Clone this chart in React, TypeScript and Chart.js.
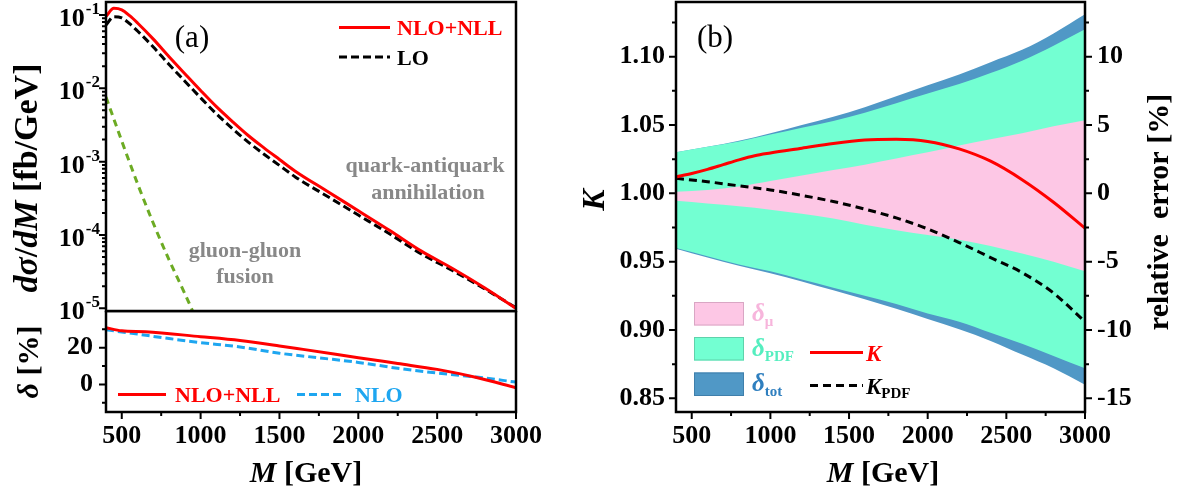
import React, { useEffect, useRef } from 'react';
import { Chart, registerables } from 'chart.js';

Chart.register(...registerables);

const FONT = "'Liberation Serif', 'Times New Roman', Times, serif";

// ---------- Panel (a), upper: dσ/dM [fb/GeV] ----------
const M_A = [400, 450, 500, 550, 600, 700, 800, 900, 1000, 1100, 1200, 1300, 1400, 1500, 1600, 1800, 2000, 2200, 2400, 2600, 2800, 3000];
const SIGMA_NLO_NLL = [0.0955, 0.123, 0.1175, 0.0977, 0.0776, 0.0468, 0.0269, 0.0158, 0.00933, 0.00562, 0.00355, 0.00229, 0.00155, 0.00107, 7.41e-4, 3.98e-4, 2.14e-4, 1.15e-4, 6.03e-5, 3.47e-5, 1.91e-5, 1.0e-5];
const SIGMA_LO = [0.073, 0.0946, 0.091, 0.0759, 0.0603, 0.0365, 0.0211, 0.0125, 0.00741, 0.00449, 0.00285, 0.00186, 0.00127, 8.87e-4, 6.19e-4, 3.4e-4, 1.87e-4, 1.03e-4, 5.51e-5, 3.25e-5, 1.85e-5, 1.02e-5];
const M_GG = [400, 500, 600, 700, 800, 900, 950];
const SIGMA_GG = [7.59e-3, 1.905e-3, 5.01e-4, 1.445e-4, 4.57e-5, 1.585e-5, 9.12e-6];
const LOG_DECADES = [-1, -2, -3, -4, -5];

// ---------- Panel (a), lower: δ [%] ----------
const M_D1 = [400, 500, 650, 1000, 1250, 1500, 1650, 2000, 2250, 2500, 2750, 3000];
const DELTA_NLO_NLL = [30.9, 29.2, 28.7, 26.0, 23.9, 21.0, 19.1, 14.6, 11.4, 8.2, 3.8, -1.8];
const M_D2 = [400, 600, 800, 1000, 1250, 1500, 1750, 2000, 2250, 2500, 2750, 3000];
const DELTA_NLO = [29.8, 27.4, 25.0, 22.8, 20.4, 17.0, 14.5, 12.0, 8.8, 6.2, 4.0, 1.3];
const DELTA_TICKS = [0, 20];

// ---------- Panel (b): K and relative errors ----------
const M_B = [400, 600, 800, 1000, 1200, 1400, 1600, 1800, 2000, 2200, 2400, 2600, 2800, 3000];
const MU_UP = [0.12, 0.25, 0.5, 0.9, 1.3, 1.7, 2.1, 2.55, 3.0, 3.5, 3.95, 4.4, 4.9, 5.35];
const MU_DN = [-0.55, -0.75, -0.95, -1.2, -1.5, -1.85, -2.3, -2.7, -3.05, -3.4, -3.85, -4.4, -5.0, -5.7];
const PDF_UP = [3.0, 3.4, 3.8, 4.3, 4.8, 5.3, 5.9, 6.6, 7.3, 8.0, 8.8, 9.7, 10.8, 12.0];
const PDF_DN = [-4.0, -4.6, -5.2, -5.7, -6.3, -6.9, -7.5, -8.1, -8.8, -9.4, -10.2, -11.0, -11.9, -12.8];
const TOT_UP = [3.0, 3.4, 3.85, 4.4, 5.0, 5.6, 6.3, 7.1, 7.9, 8.7, 9.6, 10.5, 11.7, 13.1];
const TOT_DN = [-4.05, -4.7, -5.3, -5.85, -6.45, -7.1, -7.75, -8.45, -9.2, -9.95, -10.8, -11.8, -12.8, -14.0];
const M_K = [400, 500, 600, 700, 800, 900, 1000, 1200, 1400, 1600, 1800, 2000, 2200, 2400, 2600, 2800, 3000];
const K_VAL = [1.012, 1.0145, 1.0175, 1.021, 1.0245, 1.0275, 1.0295, 1.033, 1.0365, 1.039, 1.0395, 1.038, 1.0325, 1.0235, 1.01, 0.9935, 0.9745];
const K_PDF = [1.011, 1.0085, 1.0055, 1.0025, 0.9985, 0.994, 0.9885, 0.982, 0.974, 0.964, 0.953, 0.942, 0.927, 0.906];
const K_TICKS = [0.85, 0.9, 0.95, 1.0, 1.05, 1.1];
const K_MINOR = [0.875, 0.925, 0.975, 1.025, 1.075, 1.125];
const ERR_TICKS = [-15, -10, -5, 0, 5, 10];
const ERR_MINOR = [-12.5, -7.5, -2.5, 2.5, 7.5, 12.5];

const X_TICKS = [500, 1000, 1500, 2000, 2500, 3000];
const X_MINOR = [750, 1250, 1750, 2250, 2750];

const C_RED = '#ff0000';
const C_GREEN_LINE = '#6cab23';
const C_NLO = '#1ea6f0';
const C_MU = '#fdc7e5';
const C_PDF = '#73ffd2';
const C_TOT = '#5098c6';

const pts = (xs: number[], ys: number[]) => xs.map((x, i) => ({ x, y: ys[i] }));

type Seg = { t: string; size: number; italic?: boolean; normal?: boolean; color?: string; dy?: number };
const fontOf = (s: Seg) => `${s.italic ? 'italic ' : ''}${s.normal ? '' : 'bold '}${s.size}px ${FONT}`;

function drawRich(ctx: CanvasRenderingContext2D, segs: Seg[], x: number, y: number, align: 'left' | 'center' | 'right', rot = 0) {
  ctx.save();
  ctx.translate(x, y);
  ctx.rotate(rot);
  ctx.textBaseline = 'alphabetic';
  ctx.textAlign = 'left';
  let w = 0;
  segs.forEach((s) => { ctx.font = fontOf(s); w += ctx.measureText(s.t).width; });
  let cx = align === 'left' ? 0 : align === 'center' ? -w / 2 : -w;
  segs.forEach((s) => {
    ctx.font = fontOf(s);
    ctx.fillStyle = s.color || '#000';
    ctx.fillText(s.t, cx, s.dy || 0);
    cx += ctx.measureText(s.t).width;
  });
  ctx.restore();
}

function tickMarks(ctx: CanvasRenderingContext2D, chart: any, axisId: string, side: string, values: number[], len: number) {
  const s = chart.scales[axisId];
  const a = chart.chartArea;
  ctx.save();
  ctx.strokeStyle = '#000';
  ctx.lineWidth = 2;
  ctx.beginPath();
  values.forEach((v) => {
    const p = s.getPixelForValue(v);
    if (side === 'left') { ctx.moveTo(a.left, p); ctx.lineTo(a.left - len, p); }
    else if (side === 'right') { ctx.moveTo(a.right, p); ctx.lineTo(a.right + len, p); }
    else { ctx.moveTo(p, a.bottom); ctx.lineTo(p, a.bottom + len); }
  });
  ctx.stroke();
  ctx.restore();
}

function frame(ctx: CanvasRenderingContext2D, a: any) {
  ctx.save();
  ctx.strokeStyle = '#000';
  ctx.lineWidth = 2.5;
  ctx.strokeRect(a.left, a.top, a.right - a.left, a.bottom - a.top);
  ctx.restore();
}

function lineSample(ctx: CanvasRenderingContext2D, x1: number, x2: number, y: number, color: string, dash: number[]) {
  ctx.save();
  ctx.strokeStyle = color;
  ctx.lineWidth = 3;
  ctx.setLineDash(dash);
  ctx.beginPath();
  ctx.moveTo(x1, y);
  ctx.lineTo(x2, y);
  ctx.stroke();
  ctx.restore();
}

function boxSample(ctx: CanvasRenderingContext2D, x: number, y: number, w: number, h: number, fill: string, stroke: string) {
  ctx.save();
  ctx.fillStyle = fill;
  ctx.fillRect(x, y, w, h);
  ctx.strokeStyle = stroke;
  ctx.lineWidth = 1;
  ctx.strokeRect(x + 0.5, y + 0.5, w - 1, h - 1);
  ctx.restore();
}

const tickFont = { family: FONT, size: 26, weight: 'bold' as const };
const fixedTicks = (values: number[]) => (scale: any) => { scale.ticks = values.map((v) => ({ value: v })); };
const noGrid = { display: false, drawTicks: false };
const zeroPad = (s: any) => { s.paddingTop = 0; s.paddingBottom = 0; s.paddingLeft = 0; s.paddingRight = 0; };

function lineDs(data: any[], color: string, dash: number[] = [], yAxisID = 'y') {
  return {
    data, yAxisID, borderColor: color, borderWidth: 3, borderDash: dash, pointRadius: 0,
    fill: false, cubicInterpolationMode: 'monotone' as const,
  };
}

function xScale() {
  return {
    type: 'linear' as const, min: 400, max: 3000,
    afterBuildTicks: fixedTicks(X_TICKS),
    afterFit: (s: any) => { s.height = 83; zeroPad(s); },
    grid: noGrid, border: { display: false },
    ticks: { font: tickFont, color: '#000', padding: 9, maxRotation: 0, autoSkip: false, callback: (v: any) => String(v) },
  };
}

const basePlugins = { legend: { display: false }, tooltip: { enabled: false } };

function makeTop() {
  return {
    type: 'line' as const,
    data: {
      datasets: [
        lineDs(pts(M_A, SIGMA_NLO_NLL), C_RED),
        lineDs(pts(M_A, SIGMA_LO), '#000', [8, 4]),
        lineDs(pts(M_GG, SIGMA_GG), C_GREEN_LINE, [7, 5]),
      ],
    },
    options: {
      responsive: false, animation: false as const,
      layout: { padding: { top: 2, right: 29, bottom: 13, left: 0 } },
      plugins: basePlugins,
      scales: {
        x: { type: 'linear' as const, min: 400, max: 3000, display: false },
        y: {
          type: 'logarithmic' as const, min: 9.2e-6, max: 0.15,
          afterFit: (s: any) => { s.width = 106; zeroPad(s); },
          grid: noGrid, border: { display: false }, ticks: { display: false },
        },
      },
    },
    plugins: [{
      id: 'decoTop',
      afterDraw(chart: any) {
        const ctx = chart.ctx as CanvasRenderingContext2D;
        const a = chart.chartArea;
        const y = chart.scales.y;
        frame(ctx, a);
        const major = LOG_DECADES.map((d) => Math.pow(10, d));
        const minor: number[] = [];
        for (let d = -6; d <= -1; d++) for (let m = 2; m <= 9; m++) {
          const v = m * Math.pow(10, d);
          if (v > y.min && v < y.max) minor.push(v);
        }
        tickMarks(ctx, chart, 'y', 'left', major, 7);
        tickMarks(ctx, chart, 'y', 'left', minor, 4);
        LOG_DECADES.forEach((d) => {
          const p = y.getPixelForValue(Math.pow(10, d));
          ctx.save();
          ctx.fillStyle = '#000';
          ctx.font = `bold 17px ${FONT}`;
          const ex = String(d);
          const ew = ctx.measureText(ex).width;
          ctx.textAlign = 'left';
          ctx.textBaseline = 'alphabetic';
          ctx.fillText(ex, 100 - ew, p - 1);
          ctx.font = `bold 26px ${FONT}`;
          ctx.textAlign = 'right';
          ctx.fillText('10', 100 - ew - 1, p + 11);
          ctx.restore();
        });
        drawRich(ctx, [
          { t: 'd', size: 34, italic: true }, { t: 'σ', size: 34, italic: true }, { t: '/', size: 34 },
          { t: 'd', size: 34, italic: true }, { t: 'M', size: 34, italic: true }, { t: ' [fb/GeV]', size: 34 },
        ], 37, 178, 'center', -Math.PI / 2);
        drawRich(ctx, [{ t: '(a)', size: 31, normal: true }], 192, 47, 'center');
        lineSample(ctx, 339, 390, 27.5, C_RED, []);
        drawRich(ctx, [{ t: 'NLO+NLL', size: 22, color: C_RED }], 397, 35, 'left');
        lineSample(ctx, 339, 390, 57, '#000', [8, 4]);
        drawRich(ctx, [{ t: 'LO', size: 22 }], 397, 64.5, 'left');
        const g = '#888888';
        drawRich(ctx, [{ t: 'quark-antiquark', size: 22, color: g }], 425, 172, 'center');
        drawRich(ctx, [{ t: 'annihilation', size: 22, color: g }], 428, 199, 'center');
        drawRich(ctx, [{ t: 'gluon-gluon', size: 22, color: g }], 245, 257, 'center');
        drawRich(ctx, [{ t: 'fusion', size: 22, color: g }], 245, 283, 'center');
      },
    }],
  };
}

function makeBottom() {
  return {
    type: 'line' as const,
    data: {
      datasets: [
        lineDs(pts(M_D1, DELTA_NLO_NLL), C_RED),
        lineDs(pts(M_D2, DELTA_NLO), C_NLO, [8, 4]),
      ],
    },
    options: {
      responsive: false, animation: false as const,
      layout: { padding: { top: 0, right: 29, bottom: 0, left: 0 } },
      plugins: basePlugins,
      scales: {
        x: xScale(),
        y: {
          type: 'linear' as const, min: -15, max: 40,
          afterBuildTicks: fixedTicks(DELTA_TICKS),
          afterFit: (s: any) => { s.width = 106; zeroPad(s); },
          grid: noGrid, border: { display: false },
          ticks: { font: tickFont, color: '#000', padding: 13, callback: (v: any) => String(v) },
        },
      },
    },
    plugins: [{
      id: 'decoBottom',
      afterDraw(chart: any) {
        const ctx = chart.ctx as CanvasRenderingContext2D;
        const a = chart.chartArea;
        frame(ctx, a);
        tickMarks(ctx, chart, 'y', 'left', DELTA_TICKS, 7);
        tickMarks(ctx, chart, 'y', 'left', [-10, 10, 30], 4);
        tickMarks(ctx, chart, 'x', 'bottom', X_TICKS, 7);
        tickMarks(ctx, chart, 'x', 'bottom', X_MINOR, 4);
        drawRich(ctx, [{ t: 'δ', size: 30, italic: true }, { t: ' [%]', size: 30 }], 38, 51, 'center', -Math.PI / 2);
        drawRich(ctx, [{ t: 'M', size: 30, italic: true }, { t: ' [GeV]', size: 30 }], 306, 171, 'center');
        lineSample(ctx, 118, 166, 83.5, C_RED, []);
        drawRich(ctx, [{ t: 'NLO+NLL', size: 22, color: C_RED }], 175, 91, 'left');
        lineSample(ctx, 297, 345, 83.5, C_NLO, [8, 4]);
        drawRich(ctx, [{ t: 'NLO', size: 22, color: C_NLO }], 355, 91, 'left');
      },
    }],
  };
}

function bandDs(data: any[], color: string, fillNext: boolean) {
  return {
    data, yAxisID: 'y1', borderWidth: 0, borderColor: 'rgba(0,0,0,0)', backgroundColor: color,
    pointRadius: 0, fill: fillNext ? '+1' : false, cubicInterpolationMode: 'monotone' as const,
  };
}

function makeB() {
  return {
    type: 'line' as const,
    data: {
      datasets: [
        lineDs(pts(M_K, K_VAL), C_RED),
        lineDs(pts(M_B, K_PDF), '#000', [8, 5]),
        bandDs(pts(M_B, MU_UP), C_MU, true),
        bandDs(pts(M_B, MU_DN), C_MU, false),
        bandDs(pts(M_B, PDF_UP), C_PDF, true),
        bandDs(pts(M_B, PDF_DN), C_PDF, false),
        bandDs(pts(M_B, TOT_UP), C_TOT, true),
        bandDs(pts(M_B, TOT_DN), C_TOT, false),
      ],
    },
    options: {
      responsive: false, animation: false as const,
      layout: { padding: { top: 2, right: 0, bottom: 0, left: 0 } },
      plugins: basePlugins,
      scales: {
        x: xScale(),
        y: {
          type: 'linear' as const, position: 'left' as const, min: 0.84, max: 1.14,
          afterBuildTicks: fixedTicks(K_TICKS),
          afterFit: (s: any) => { s.width = 116; zeroPad(s); },
          grid: noGrid, border: { display: false },
          ticks: { font: tickFont, color: '#000', padding: 11, callback: (v: any) => Number(v).toFixed(2) },
        },
        y1: {
          type: 'linear' as const, position: 'right' as const, min: -16, max: 14,
          afterBuildTicks: fixedTicks(ERR_TICKS),
          afterFit: (s: any) => { s.width = 97; zeroPad(s); },
          grid: noGrid, border: { display: false },
          ticks: { font: tickFont, color: '#000', padding: 12, callback: (v: any) => String(v) },
        },
      },
    },
    plugins: [{
      id: 'decoB',
      afterDraw(chart: any) {
        const ctx = chart.ctx as CanvasRenderingContext2D;
        const a = chart.chartArea;
        frame(ctx, a);
        tickMarks(ctx, chart, 'y', 'left', K_TICKS, 7);
        tickMarks(ctx, chart, 'y', 'left', K_MINOR, 4);
        tickMarks(ctx, chart, 'y1', 'right', ERR_TICKS, 7);
        tickMarks(ctx, chart, 'y1', 'right', ERR_MINOR, 4);
        tickMarks(ctx, chart, 'x', 'bottom', X_TICKS, 7);
        tickMarks(ctx, chart, 'x', 'bottom', X_MINOR, 4);
        drawRich(ctx, [{ t: 'K', size: 32, italic: true }], 44, 200, 'center', -Math.PI / 2);
        drawRich(ctx, [{ t: 'relative  error [%]', size: 30 }], 608, 212, 'center', -Math.PI / 2);
        drawRich(ctx, [{ t: 'M', size: 30, italic: true }, { t: ' [GeV]', size: 30 }], 323, 482, 'center');
        drawRich(ctx, [{ t: '(b)', size: 31, normal: true }], 155, 47, 'center');
        boxSample(ctx, 134, 302, 50, 23.5, C_MU, '#d9a6c4');
        boxSample(ctx, 134, 337, 50, 23.5, C_PDF, '#5fd2ab');
        boxSample(ctx, 134, 372.5, 50, 23.5, C_TOT, '#3f7fab');
        drawRich(ctx, [{ t: 'δ', size: 25, italic: true, color: '#f7b5dc' }, { t: 'μ', size: 15, color: '#f7b5dc', dy: 5 }], 192, 321, 'left');
        drawRich(ctx, [{ t: 'δ', size: 25, italic: true, color: '#55eebf' }, { t: 'PDF', size: 15, color: '#55eebf', dy: 5 }], 192, 356, 'left');
        drawRich(ctx, [{ t: 'δ', size: 25, italic: true, color: '#2f7fbf' }, { t: 'tot', size: 15, color: '#2f7fbf', dy: 5 }], 192, 391, 'left');
        lineSample(ctx, 250, 303, 352.5, C_RED, []);
        drawRich(ctx, [{ t: 'K', size: 23, italic: true, color: C_RED }], 306, 360.5, 'left');
        lineSample(ctx, 250, 303, 385.5, '#000', [8, 5]);
        drawRich(ctx, [{ t: 'K', size: 23, italic: true }, { t: 'PDF', size: 15, dy: 4 }], 306, 393.5, 'left');
      },
    }],
  };
}

function Panel({ left, top, width, height, make }: { left: number; top: number; width: number; height: number; make: () => any }) {
  const ref = useRef<HTMLCanvasElement>(null);
  useEffect(() => {
    const ch = new Chart(ref.current as HTMLCanvasElement, make());
    return () => ch.destroy();
  }, []);
  return <canvas ref={ref} width={width} height={height} style={{ position: 'absolute', left, top, width, height }} />;
}

export default function App() {
  return (
    <div style={{ position: 'absolute', left: 0, top: 0, width: 1182, height: 495, background: '#fff', overflow: 'hidden' }}>
      <Panel left={0} top={0} width={545} height={324} make={makeTop} />
      <Panel left={0} top={311} width={545} height={184} make={makeBottom} />
      <Panel left={560} top={0} width={622} height={495} make={makeB} />
    </div>
  );
}
